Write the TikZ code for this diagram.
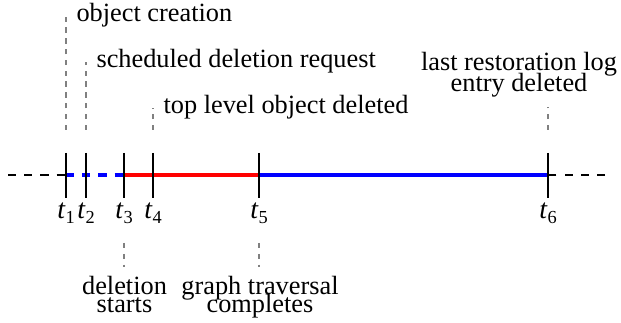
\documentclass[tikz,border=0pt]{standalone}
\usepackage{fontspec}
\setmainfont{Liberation Serif}
\newcommand\tsub[1]{\textit{t}\raisebox{-1.85pt}{\fontsize{6.8}{8}\selectfont #1}}
\begin{document}
\begin{tikzpicture}[x=0.37037pt,y=-0.37037pt,
  lbl/.style={font=\fontsize{9.75}{11.7}\selectfont, inner sep=0pt},
  tlbl/.style={font=\fontsize{10.3}{12}\selectfont, inner sep=0pt},
  guide/.style={gray, line width=0.4pt, dash pattern=on 2pt off 2pt},
  tickline/.style={black, line width=0.45pt},
  axisdash/.style={black, line width=0.4pt, dash pattern=on 3pt off 3pt},
  seg/.style={line width=1.3pt}]
\useasboundingbox (0,0) rectangle (621,323);

% axis points
\foreach \i/\x in {1/66,2/86,3/124,4/153,5/259,6/548}{
  \coordinate (p\i) at (\x,175);
  \coordinate (top\i) at (\x,153);
  \coordinate (bot\i) at (\x,198);
}
\coordinate (axl) at (8,175);
\coordinate (axr) at (605,175);

% axis segments
\draw[axisdash] (axl) -- (p1);
\draw[axisdash] (axr) -- (p6);
\draw[blue, seg, dash pattern=on 3pt off 3pt] (p1) -- (p3);
\draw[red, seg] (p3) -- (p5);
\draw[blue, seg] (p5) -- (p6);

% ticks
\foreach \i in {1,...,6}{
  \draw[tickline] (top\i) -- (bot\i);
}

% tick labels
\node[tlbl, anchor=base] (l1) at (66,219) {\tsub{1}};
\node[tlbl, anchor=base] (l2) at (86,219) {\tsub{2}};
\node[tlbl, anchor=base] (l3) at (124,219) {\tsub{3}};
\node[tlbl, anchor=base] (l4) at (153,219) {\tsub{4}};
\node[tlbl, anchor=base] (l5) at (259,219) {\tsub{5}};
\node[tlbl, anchor=base] (l6) at (548,219) {\tsub{6}};

% event labels above
\node[lbl, anchor=base west] (e1) at (76,22) {object creation};
\node[lbl, anchor=base west] (e2) at (96,68) {scheduled deletion request};
\node[lbl, anchor=base west] (e4) at (163,114) {top level object deleted};
\node[lbl, anchor=base, align=center] (e6) at (519,91.5) {last restoration log\\[-3.9pt]entry deleted};

% event labels below
\node[lbl, anchor=base, align=center] (e3) at (124.5,313) {deletion\\[-4.7pt]starts};
\node[lbl, anchor=base, align=center] (e5) at (260,313) {graph traversal\\[-4.7pt]completes};

% guide lines
\coordinate (g1a) at (66,130); \coordinate (g1b) at (66,15);
\coordinate (g2a) at (86,130); \coordinate (g2b) at (86,62);
\coordinate (g4a) at (153,130); \coordinate (g4b) at (153,108);
\coordinate (g6a) at (548,130); \coordinate (g6b) at (548,107);
\coordinate (g3a) at (124,243); \coordinate (g3b) at (124,267);
\coordinate (g5a) at (259,243); \coordinate (g5b) at (259,267);
\draw[guide] (g1a) -- (g1b);
\draw[guide] (g2a) -- (g2b);
\draw[guide] (g4a) -- (g4b);
\draw[guide] (g6a) -- (g6b);
\draw[guide] (g3a) -- (g3b);
\draw[guide] (g5a) -- (g5b);
\end{tikzpicture}
\end{document}
